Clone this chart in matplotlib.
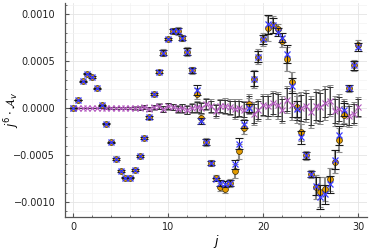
import numpy as np
import matplotlib
matplotlib.use("Agg")
import matplotlib.pyplot as plt
from matplotlib.ticker import FuncFormatter, AutoMinorLocator

# j grid, 0 .. 30 in steps of 0.5
j = np.arange(0, 30.5, 0.5)

# orange circles (grey error bars)
a_orange = [0.0, 0.000085, 0.000285, 0.000365, 0.00033, 0.00021, 0.00003, -0.000167,
            -0.000365, -0.000545, -0.00067, -0.00074, -0.00074, -0.00066, -0.000515, -0.000315,
            -0.0001, 0.00015, 0.000385, 0.00059, 0.000735, 0.00082, 0.00082, 0.000745,
            0.0006, 0.0004, 0.000152, -0.000107, -0.00036, -0.000585, -0.00074, -0.00084,
            -0.00086, -0.0008, -0.00067, -0.00046, -0.000217, 0.000046, 0.00031, 0.000545,
            0.00073, 0.000847, 0.000886, 0.00084, 0.00071, 0.00052, 0.00028, 0.00001,
            -0.00026, -0.000505, -0.0007, -0.00084, -0.00089, -0.00086, -0.00076, -0.00057,
            -0.00034, -0.00007, 0.00021, 0.000455, 0.000675]
e_orange = [0.000003, 0.000005, 0.000006, 0.000007, 0.000008, 0.000008, 0.000009, 0.000009,
            0.00001, 0.00001, 0.00001, 0.00001, 0.000012, 0.000012, 0.000013, 0.000015,
            0.000018, 0.00002, 0.00002, 0.00004, 0.00002, 0.00003, 0.00004, 0.00003,
            0.00005, 0.00004, 0.00006, 0.00004, 0.00004, 0.00003, 0.00003, 0.00004,
            0.00004, 0.00004, 0.00007, 0.00008, 0.00006, 0.00006, 0.0001, 0.00008,
            0.00007, 0.00013, 0.00009, 0.00005, 0.00006, 0.00013, 0.0001, 0.00012,
            0.00009, 0.00005, 0.00004, 0.00013, 0.00016, 0.00013, 0.00012, 0.00012,
            0.00013, 0.00009, 0.00004, 0.00006, 0.00005]

# blue crosses (black error bars)
a_blue = [0.0, 0.000085, 0.000285, 0.000365, 0.00033, 0.00021, 0.00003, -0.000167,
          -0.000365, -0.000545, -0.00067, -0.00074, -0.00074, -0.00066, -0.000515, -0.000315,
          -0.0001, 0.00015, 0.000385, 0.00059, 0.000735, 0.00082, 0.00082, 0.000745,
          0.0006, 0.0004, 0.00019, -0.00014, -0.00036, -0.000585, -0.00076, -0.0008,
          -0.00081, -0.0008, -0.0006, -0.00038, -0.00017, 0.0, 0.00031, 0.000545,
          0.00073, 0.00089, 0.00088, 0.00081, 0.00075, 0.000575, 0.000235, -0.00001,
          -0.00031, -0.000505, -0.0007, -0.00083, -0.00095, -0.00092, -0.00081, -0.00055,
          -0.00029, -0.00002, 0.00021, 0.000455, 0.00065]
e_blue = [0.000003, 0.000004, 0.000005, 0.000006, 0.000006, 0.000007, 0.000007, 0.000008,
          0.000008, 0.000009, 0.000009, 0.00001, 0.00001, 0.00001, 0.000011, 0.000012,
          0.000014, 0.000015, 0.000016, 0.00003, 0.000015, 0.00002, 0.00003, 0.00002,
          0.00004, 0.00003, 0.00005, 0.00003, 0.00003, 0.00002, 0.00002, 0.00003,
          0.00003, 0.00003, 0.00005, 0.00006, 0.00004, 0.00004, 0.00008, 0.00006,
          0.00005, 0.0001, 0.00008, 0.00004, 0.00005, 0.0001, 0.00008, 0.00009,
          0.00007, 0.00004, 0.00003, 0.0001, 0.00013, 0.0001, 0.00009, 0.0001,
          0.0001, 0.00007, 0.00003, 0.00005, 0.00004]

# near-zero purple crosses
a_purple = [0.0, 0.0, 0.0, 0.0, 0.0, 0.0, 0.0, 0.0,
            0.0, 0.0, 0.0, 0.0, 0.0, 0.0, 0.0, 0.00001,
            -0.00001, 0.00001, 0.00002, -0.00001, 0.00002, 0.00001, -0.00001, 0.0,
            -0.00002, 0.0, 0.00001, 0.0, 0.00004, 0.00002, -0.00003, 0.00002,
            0.00002, 0.00001, -0.00001, 0.0, -0.00002, 0.00004, -0.00006, -0.00002,
            0.00003, 0.00002, 0.00005, 0.00003, -0.00002, 0.00009, 0.00003, 0.0,
            0.0, 0.00002, -0.00004, 0.00002, 0.00001, 0.00005, 0.00008, -0.00003,
            -0.00001, -0.00005, -0.00008, -0.00006, 0.00001]
e_purple = [0.000001, 0.000001, 0.000002, 0.000002, 0.000003, 0.000003, 0.000004, 0.000005,
            0.000006, 0.000007, 0.000008, 0.00001, 0.000012, 0.000014, 0.000016, 0.000018,
            0.00002, 0.000022, 0.000025, 0.00003, 0.00003, 0.00003, 0.000035, 0.00004,
            0.00004, 0.000045, 0.00005, 0.00005, 0.000055, 0.00006, 0.00006, 0.000065,
            0.00007, 0.00007, 0.00009, 0.00008, 0.00008, 0.00009, 0.0001, 0.0001,
            0.0001, 0.00011, 0.00011, 0.00012, 0.00012, 0.00012, 0.00013, 0.00013,
            0.00014, 0.00014, 0.00014, 0.00015, 0.00015, 0.00015, 0.00014, 0.00013,
            0.00013, 0.00012, 0.0001, 0.0001, 0.00009]

fig = plt.figure(figsize=(3.74, 2.49), dpi=100)
ax = fig.add_axes([0.174, 0.1285, 0.807, 0.859])

# purple series underneath
ax.errorbar(j, a_purple, yerr=np.array(e_purple) * 1.2, fmt='none', ecolor='#8a8a8a',
            elinewidth=1.1, capsize=2.5, capthick=0.7, zorder=2)
ax.errorbar(j, a_purple, yerr=e_purple, fmt='none', ecolor='#333333',
            elinewidth=0.6, capsize=2.5, capthick=0.7, zorder=2)
ax.plot(j, a_purple, color='#8e3a8e', lw=0.5, alpha=0.7, zorder=3)
ax.plot(j, a_purple, 'x', color='#b45ac0', ms=4.5, mew=0.8, zorder=3)

# orange circles with grey bars
ax.errorbar(j, a_orange, yerr=e_orange, fmt='none', ecolor='#8c8c8c',
            elinewidth=1.5, capsize=2.5, capthick=0.8, zorder=4)
ax.plot(j, a_orange, 'o', color='#e39b00', mec='#3a2a00', mew=0.5, ms=4.2, zorder=5)

# blue crosses with black bars
ax.errorbar(j, a_blue, yerr=e_blue, fmt='none', ecolor='#1a1a1a',
            elinewidth=0.7, capsize=2.8, capthick=0.8, zorder=6)
ax.plot(j, a_blue, 'x', color='#3b3bff', ms=4.8, mew=0.9, zorder=7)

ax.set_xlim(-0.84, 30.9)
ax.set_ylim(-0.00116, 0.001117)
ax.set_xticks([0, 10, 20, 30])
ax.set_yticks([-0.001, -0.0005, 0, 0.0005, 0.001])
ax.yaxis.set_major_formatter(FuncFormatter(lambda v, p: ('%.4f' % v).replace('-', '\u2212')))
ax.xaxis.set_minor_locator(AutoMinorLocator(5))
ax.yaxis.set_minor_locator(AutoMinorLocator(5))

ax.grid(True, which='major', color='#e4e4e4', lw=0.6)
ax.grid(True, which='minor', color='#f3f3f3', lw=0.5)
ax.set_axisbelow(True)
for s in ['top', 'right']:
    ax.spines[s].set_visible(False)
for s in ['left', 'bottom']:
    ax.spines[s].set_color('#555555')
    ax.spines[s].set_linewidth(0.9)
ax.tick_params(which='both', direction='in', colors='#555555', labelcolor='#222222',
               labelsize=7)
ax.tick_params(axis='y', pad=7)
ax.tick_params(which='major', length=3)
ax.tick_params(which='minor', length=1.5)

ax.set_xlabel(r'$j$', fontsize=9, labelpad=1)
ax.set_ylabel(r'$j^6\cdot\mathcal{A}_v$', fontsize=8.5)
ax.yaxis.set_label_coords(-0.143, 0.5)

fig.savefig('out.png', dpi=100)
